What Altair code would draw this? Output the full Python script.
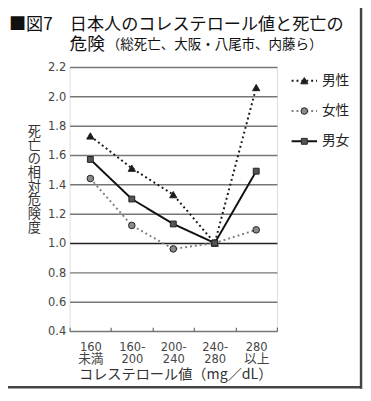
import altair as alt
import pandas as pd

# ---- data ----
categories = ["160未満", "160-200", "200-240", "240-280", "280以上"]
series = ["男性", "女性", "男女"]
male = [1.73, 1.51, 1.33, 1.00, 2.06]
female = [1.44, 1.12, 0.96, 1.00, 1.09]
both = [1.57, 1.30, 1.13, 1.00, 1.49]
y_ticks = [0.4, 0.6, 0.8, 1.0, 1.2, 1.4, 1.6, 1.8, 2.0, 2.2]

title_line1 = "■図7　日本人のコレステロール値と死亡の"
title_line2a = "危険"
title_line2b = "（総死亡、大阪・八尾市、内藤ら）"
y_title = list("死亡の相対危険度")
x_title = "コレステロール値（mg／dL）"

# ---- styles ----
CJK = "Noto Sans CJK JP"
NUM = "Liberation Sans Narrow, DejaVu Sans Condensed, Noto Sans CJK JP, sans-serif"
stroke_colors = ["#1a1a1a", "#808080", "#111111"]
fill_colors = ["#1a1a1a", "#8a8a8a", "#555555"]
dashes = [[2, 3], [2, 3], [1, 0]]
widths = [2, 2, 2.5]
shapes = ["triangle-up", "circle", "square"]
sizes = [55, 36, 60]

rows = []
for s, vals in zip(series, [male, female, both]):
    for c, v in zip(categories, vals):
        rows.append({"series": s, "cat": c, "value": v})
df = pd.DataFrame(rows)

leg_line = pd.DataFrame([{"series": s, "pos": p} for s in series for p in (0, 2)])
leg_pt = pd.DataFrame([{"series": s, "pos": 1} for s in series])
leg_txt = pd.DataFrame([{"series": s, "pos": 2} for s in series])

color_enc = alt.Color("series:N", scale=alt.Scale(domain=series, range=stroke_colors), legend=None)
dash_enc = alt.StrokeDash("series:N", scale=alt.Scale(domain=series, range=dashes), legend=None)
width_enc = alt.StrokeWidth("series:N", scale=alt.Scale(domain=series, range=widths), legend=None)
shape_enc = alt.Shape("series:N", scale=alt.Scale(domain=series, range=shapes), legend=None)
fill_enc = alt.Fill("series:N", scale=alt.Scale(domain=series, range=fill_colors), legend=None)
size_enc = alt.Size("series:N", scale=alt.Scale(domain=series, range=sizes), legend=None)

label_expr = ("datum.label == '160未満' ? ['160','未満'] : datum.label == '280以上' ? ['280','以上'] : "
              "[slice(datum.label,0,4), slice(datum.label,4)]")

x_enc = alt.X(
    "cat:N",
    scale=alt.Scale(domain=categories, paddingInner=0, paddingOuter=0),
    sort=categories,
    axis=alt.Axis(
        title=x_title, titleFont=CJK, titleFontSize=14.5, titleFontWeight="normal",
        titleColor="#333", titleBaseline="alphabetic", titleY=52.5, titleX=108,
        labelAngle=0, labelExpr=label_expr, labelFont=NUM, labelFontSize=13,
        labelColor="#444", labelLineHeight=12, labelPadding=10, labelBaseline="top",
        tickBand="extent", tickSize=4, tickColor="#666", tickWidth=1.2,
        offset=-4, domain=False, grid=False,
    ),
)
y_enc = alt.Y(
    "value:Q",
    scale=alt.Scale(domain=[0.4, 2.2], nice=False, zero=False),
    axis=alt.Axis(
        values=y_ticks, format=".1f", title=y_title, titleFont=CJK, titleFontSize=13.5,
        titleFontWeight="normal", titleColor="#333", titleAngle=0, titleAlign="center",
        titleBaseline="top", titleLineHeight=14, titleX=-36.5, titleY=59,
        labelFont=NUM, labelFontSize=13, labelColor="#444", labelPadding=4,
        tickSize=0, domain=False,
        gridColor=alt.condition("abs(datum.value - 1) < 0.001", alt.value("#222"), alt.value("#777777")),
        gridWidth=1.5,
    ),
)

base = alt.Chart(df)
lines = base.mark_line().encode(x=x_enc, y=y_enc, color=color_enc, strokeDash=dash_enc,
                                strokeWidth=width_enc, order=alt.Order("series:N"))
points = base.mark_point(filled=True, opacity=1, strokeWidth=1).encode(
    x=x_enc, y=y_enc, shape=shape_enc, fill=fill_enc, size=size_enc,
    stroke=alt.value("#222"))
main = alt.layer(lines, points)

lx = alt.X("pos:Q", scale=alt.Scale(domain=[0, 2], range=[227, 253]), axis=None)
ly = alt.Y("series:N", scale=alt.Scale(type="point", domain=series, range=[14, 76], padding=0), axis=None)
leg_l = alt.Chart(leg_line).mark_line().encode(x=lx, y=ly, color=color_enc, strokeDash=dash_enc,
                                               strokeWidth=width_enc, detail="series:N")
leg_p = alt.Chart(leg_pt).mark_point(filled=True, opacity=1, strokeWidth=1).encode(
    x=lx, y=ly, shape=shape_enc, fill=fill_enc, size=size_enc, stroke=alt.value("#222"))
leg_t = alt.Chart(leg_txt).mark_text(align="left", baseline="middle", dx=5, font=CJK,
                                     fontSize=14, color="#222").encode(x=lx, y=ly, text="series:N")

t1 = alt.Chart(pd.DataFrame({"t": [title_line1]})).mark_text(
    align="left", baseline="alphabetic", font=CJK, fontSize=17.5, color="#111").encode(
    x=alt.value(-62), y=alt.value(-37.5), text="t:N")
t2a = alt.Chart(pd.DataFrame({"t": [title_line2a]})).mark_text(
    align="left", baseline="alphabetic", font=CJK, fontSize=18, color="#111").encode(
    x=alt.value(0), y=alt.value(-17.5), text="t:N")
t2b = alt.Chart(pd.DataFrame({"t": [title_line2b]})).mark_text(
    align="left", baseline="alphabetic", font=CJK, fontSize=13.8, color="#111").encode(
    x=alt.value(38), y=alt.value(-18.5), text="t:N")
frame_r = alt.Chart(pd.DataFrame({"a": [0]})).mark_rule(color="#444", strokeWidth=2.5).encode(
    x=alt.value(298), y=alt.value(-62), y2=alt.value(329))
frame_b = alt.Chart(pd.DataFrame({"a": [0]})).mark_rule(color="#444", strokeWidth=2.5).encode(
    x=alt.value(-63), x2=alt.value(299), y=alt.value(327.5))

legend_layer = alt.layer(leg_l, leg_p, leg_t, t1, t2a, t2b, frame_r, frame_b)

chart = alt.layer(main, legend_layer).resolve_scale(x="independent", y="independent").properties(
    width=212, height=270,
    autosize=alt.AutoSizeParams(type="none"),
    padding={"left": 63, "top": 56, "right": 88, "bottom": 59},
).configure_view(stroke="#333", strokeWidth=1.5).configure(background="white")

chart.save("out.html", embed_options={"renderer": "svg", "actions": False})
